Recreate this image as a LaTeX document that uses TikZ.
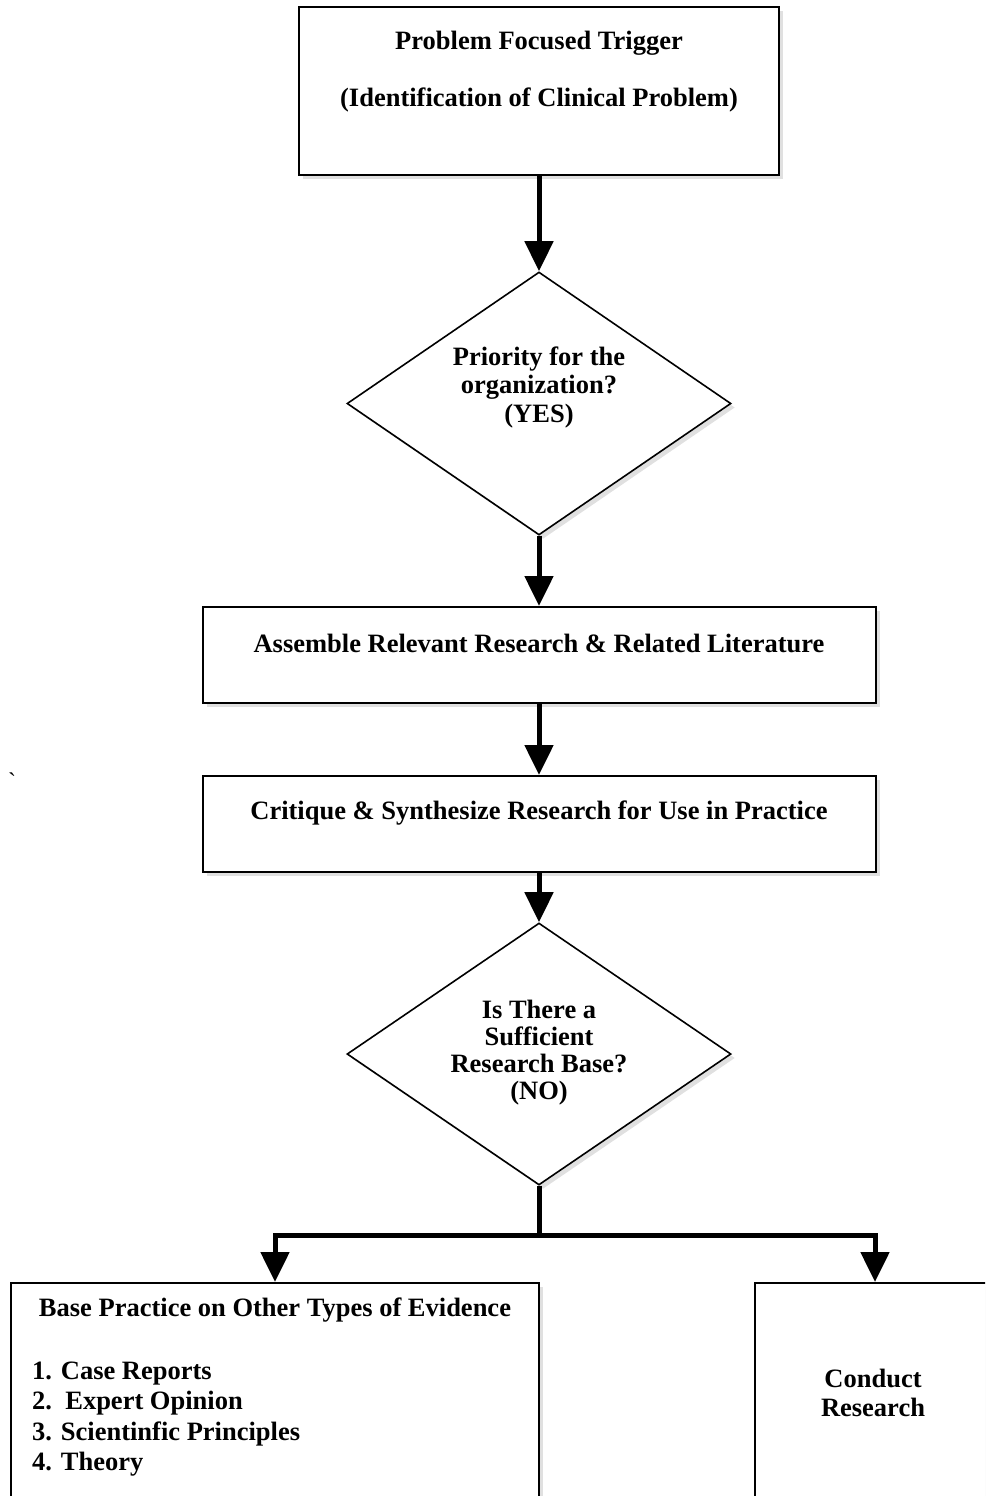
\documentclass[tikz,border=0pt]{standalone}
\usepackage{fontspec}
\setmainfont{Liberation Serif}
\usetikzlibrary{arrows.meta,shapes.geometric,shadows}
\begin{document}
\begin{tikzpicture}[x=1pt,y=-1pt,
  every node/.style={font=\bfseries\fontsize{26.5}{28.5}\selectfont},
  shad/.style={drop shadow={shadow xshift=4pt,shadow yshift=-4pt,opacity=0.12,fill=black}},
  boxnode/.style={draw=black,line width=2pt,fill=white,rectangle,inner sep=0pt,shad},
  dianode/.style={draw=black,line width=1.6pt,fill=white,diamond,inner sep=0pt,shad},
  txt/.style={align=center,inner sep=0pt},
  conn/.style={line width=5pt,line join=miter,-{Triangle[width=28pt,length=30pt]}},
  plain/.style={line width=5pt}
]
\clip (0,0) rectangle (985,1496);
\fill[white] (0,0) rectangle (985,1496);

% nodes
\node[boxnode,minimum width=480pt,minimum height=168pt] (top) at (539,91) {};
\node[txt] (toptxt1) at (539,43) {Problem Focused Trigger};
\node[txt] (toptxt2) at (539,100) {(Identification of Clinical Problem)};

\node[dianode,minimum width=384pt,minimum height=263pt] (d1) at (539,403.5) {};
\node[txt] (d1txt) at (539,387) {Priority for the\\organization?\\(YES)};

\node[boxnode,minimum width=673pt,minimum height=96pt] (b2) at (539,655) {};
\node[txt] (b2txt) at (539,643) {Assemble Relevant Research \& Related Literature};

\node[boxnode,minimum width=673pt,minimum height=96pt] (b3) at (539,824) {};
\node[txt] (b3txt) at (539,813) {Critique \& Synthesize Research for Use in Practice};

\node[dianode,minimum width=384pt,minimum height=262pt] (d2) at (539,1054) {};
\node[txt,font=\bfseries\fontsize{26.5}{27}\selectfont] (d2txt) at (539,1053) {Is There a\\Sufficient\\Research Base?\\(NO)};

\node[boxnode,minimum width=528pt,minimum height=240pt] (lbox) at (275,1403) {};
\node[txt] (lhead) at (275,1310) {Base Practice on Other Types of Evidence};
\node[align=left,inner sep=0pt,anchor=west,font=\bfseries\fontsize{26.5}{30.3}\selectfont] (litems) at (32,1419)
  {1. Case Reports\\2.\ \ Expert Opinion\\3. Scientinfic Principles\\4. Theory};

\node[boxnode,minimum width=240pt,minimum height=240pt] (rbox) at (875,1403) {};
\node[txt] (rtxt) at (873,1393) {Conduct\\Research};

\node[inner sep=0pt,font=\fontsize{24}{28}\selectfont] (tick) at (12,781) {\textasciigrave};

% connectors
\coordinate (split) at (539,1235);
\draw[conn] (top.south) -- (d1.north);
\draw[conn] (d1.south) -- (b2.north);
\draw[conn] (b2.south) -- (b3.north);
\draw[conn] (b3.south) -- (d2.north);
\draw[plain] (d2.south) -- ([yshift=-2.5pt]split);
\draw[conn] (split) -| (lbox.north);
\draw[conn] (split) -| (rbox.north);
\end{tikzpicture}
\end{document}
